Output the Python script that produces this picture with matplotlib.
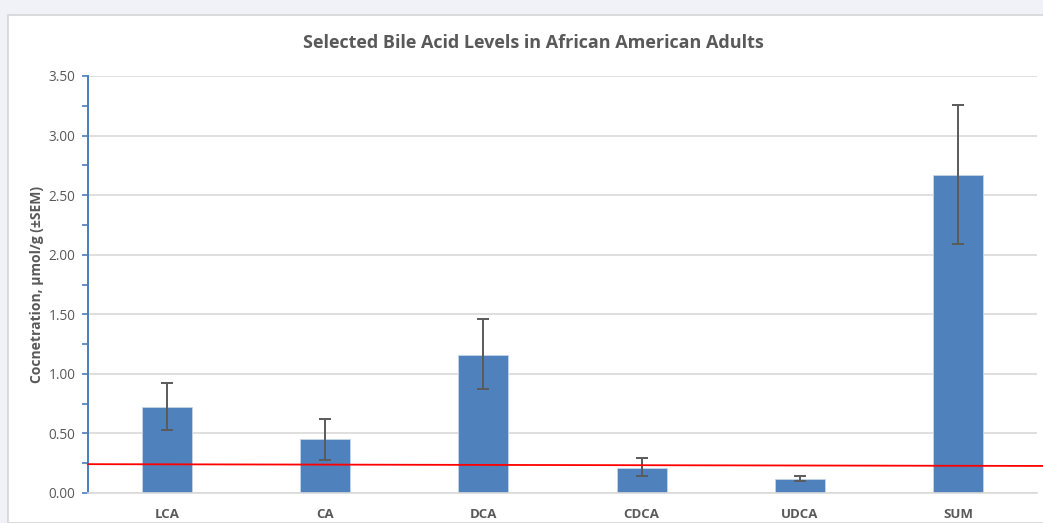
import matplotlib
matplotlib.use("Agg")
import matplotlib.pyplot as plt
from matplotlib.patches import Rectangle
import numpy as np

categories = ["LCA", "CA", "DCA", "CDCA", "UDCA", "SUM"]
values = [0.72, 0.45, 1.16, 0.21, 0.12, 2.67]
err_upper = [0.92, 0.62, 1.46, 0.29, 0.14, 3.26]
err_lower = [0.53, 0.28, 0.87, 0.14, 0.10, 2.09]
ref_line = [0.242, 0.227]  # red line, left and right ends
yticks = [0.0, 0.5, 1.0, 1.5, 2.0, 2.5, 3.0, 3.5]

plt.rcParams['font.family'] = ['Open Sans', 'DejaVu Sans']
gray = "#595959"

W, H = 1043, 523
fig = plt.figure(figsize=(W / 100, H / 100), dpi=100, facecolor="#f0f2f8")
fig.patches.append(Rectangle((8 / W, 0), 1.1, 1 - 15 / H, transform=fig.transFigure,
                             facecolor="white", edgecolor="#d4d4d4", linewidth=1.2, zorder=-5))

ax = fig.add_axes([88 / W, 1 - 493 / H, (1037 - 88) / W, (493 - 76) / H])
ax.set_zorder(2)
ax.set_facecolor("none")

x = np.arange(len(categories))
vals = np.array(values)
yerr = np.array([vals - np.array(err_lower), np.array(err_upper) - vals])
ax.bar(x, vals, width=0.316, color="#4f81bd", edgecolor="#c5d5ea", linewidth=0.6, zorder=2)
ax.errorbar(x, vals, yerr=yerr, fmt="none", ecolor="#5a5a5a", elinewidth=1.4,
            capsize=4, capthick=1.4, zorder=3)

ax.set_xlim(-0.5, len(categories) - 0.5)
ax.set_ylim(0, 3.5)
ax.set_yticks(yticks)
ax.set_yticklabels([f"{t:.2f}" for t in yticks], color=gray, fontsize=9.8)
ax.set_yticks(np.arange(0, 3.51, 0.25), minor=True)
ax.set_xticks(x)
ax.set_xticklabels(categories, color=gray, fontsize=9.5, fontweight="bold")
ax.tick_params(axis="x", length=0, pad=11)
ax.tick_params(axis="y", which="both", length=4, width=1.2, color="#4a7ebf", direction="out", pad=5)
ax.grid(axis="y", color="#d9d9d9", linewidth=1.2, zorder=0)
ax.set_axisbelow(True)
for s in ["top", "right"]:
    ax.spines[s].set_visible(False)
ax.spines["left"].set_color("#4a7ebf")
ax.spines["left"].set_linewidth(1.4)
ax.spines["bottom"].set_color("#d9d9d9")
ax.spines["bottom"].set_linewidth(1.2)

# red reference line extends a bit beyond plot to the right
xr = [-0.5, len(categories) - 0.5 + 6 / 158]
ax.plot(xr, ref_line, color="#ff0000", linewidth=1.3, zorder=4, clip_on=False)

ax.set_ylabel("Cocnetration, µmol/g (±SEM)", color=gray, fontsize=10, fontweight="bold", labelpad=3)
fig.text(533 / W, 1 - 43 / H, "Selected Bile Acid Levels in African American Adults",
         ha="center", va="center", color=gray, fontsize=13, fontweight="bold")

fig.savefig("out.png", dpi=100, facecolor=fig.get_facecolor())
